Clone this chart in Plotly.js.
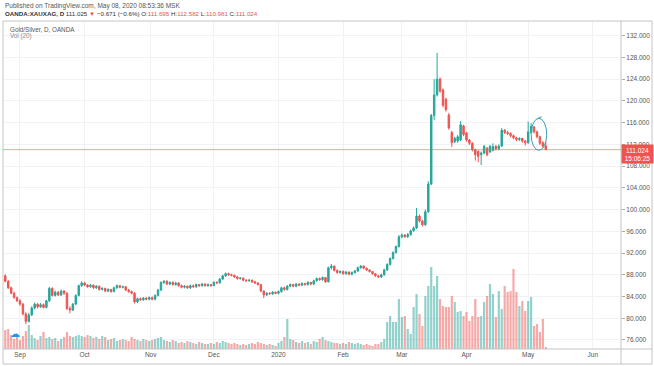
<!DOCTYPE html>
<html>
<head>
<meta charset="utf-8">
<script src="https://cdn.plot.ly/plotly-3.0.1.min.js"></script>
<style>html,body{margin:0;padding:0;background:#fff;}#chart{width:654px;height:366px;}</style>
</head>
<body>
<div id="chart"></div>
<script>
// Daily bars, Aug 26 2019 .. May 8 2020 (index = trading day)
const openP = [87.8,86.8,85.6,84.6,83.8,83.2,82.6,80.8,79.4,80.6,81.9,82.6,82.1,82.5,82.0,83.2,85.5,84.2,84.8,84.3,85.0,84.6,81.8,81.5,82.6,84.2,
86.0,86.5,86.1,85.8,86.1,85.6,85.9,85.3,85.5,85.0,85.3,84.9,85.6,86.0,85.7,85.8,85.2,84.9,84.6,83.0,83.6,83.4,83.7,83.5,83.8,83.5,84.2,85.2,86.6,86.8,
86.3,86.6,86.2,86.5,86.0,85.7,85.9,85.6,86.0,85.8,86.2,86.0,86.3,86.0,86.2,86.0,86.6,86.5,87.2,87.8,88.2,88.0,87.9,87.6,87.3,87.4,87.0,86.9,87.0,86.7,
86.5,86.2,85.0,84.3,84.6,84.5,84.8,84.6,84.9,85.6,85.3,85.9,86.2,85.9,86.3,86.1,86.4,86.2,86.6,86.3,86.9,87.3,87.1,87.5,86.7,89.3,89.6,88.8,88.4,88.6,
88.2,88.5,88.1,88.4,88.7,89.3,89.6,89.2,88.9,88.6,88.2,87.8,87.6,88.0,88.9,89.9,91.0,92.1,93.2,95.0,95.3,95.0,95.4,96.1,96.6,98.8,97.9,97.2,99.6,104.7,
117.3,121.1,124.0,122.0,120.3,117.4,114.2,112.5,112.6,112.8,115.4,114.1,112.8,112.2,111.0,110.7,110.1,110.4,111.3,110.6,110.9,111.6,111.2,111.7,114.6,
114.2,114.0,113.6,113.2,112.9,113.1,112.6,112.3,114.2,115.2,114.3,113.4,112.3,111.695];
const highP = [88.1,87.0,85.8,84.9,84.0,83.5,82.8,81.1,81.0,82.2,82.9,82.8,82.8,82.7,83.4,85.8,85.7,85.1,85.0,85.3,85.2,84.8,82.2,82.8,84.4,86.2,
86.8,86.7,86.3,86.3,86.2,86.1,86.0,85.7,85.6,85.5,85.4,85.8,86.2,86.1,86.0,85.9,85.4,85.1,84.8,83.8,83.8,83.9,83.9,84.0,84.0,84.4,85.4,86.8,87.0,87.0,
86.8,86.8,86.7,86.6,86.2,86.1,86.0,86.2,86.2,86.4,86.3,86.5,86.4,86.4,86.3,86.8,86.8,87.4,88.0,88.4,88.4,88.2,88.0,87.8,87.6,87.5,87.2,87.2,87.1,86.9,
86.6,86.3,85.1,84.8,84.8,85.0,84.9,85.1,85.8,85.8,86.1,86.4,86.3,86.5,86.4,86.6,86.5,86.8,86.7,87.1,87.5,87.5,87.7,87.6,89.5,90.0,89.7,89.0,88.8,88.8,
88.7,88.6,88.6,88.9,89.5,89.8,89.7,89.3,89.0,88.7,88.3,88.0,88.2,89.1,90.1,91.2,92.3,93.4,95.3,95.6,95.5,95.7,96.3,96.9,100.3,99.1,98.1,100.0,105.2,117.6,
124.0,128.8,124.3,122.3,120.6,117.8,114.5,113.4,113.7,116.3,115.6,114.3,113.0,112.4,111.2,110.9,110.7,111.9,111.5,111.9,112.2,111.9,112.0,115.0,114.8,
114.5,114.2,113.8,113.4,113.3,113.2,112.8,116.2,115.9,115.4,114.5,113.6,112.6,112.582];
const lowP = [86.6,85.4,84.4,83.6,83.0,82.3,80.5,78.9,79.2,80.4,81.6,81.8,81.9,81.8,81.8,83.0,84.0,84.0,84.1,84.1,84.3,81.5,80.9,81.3,82.4,84.0,
85.8,85.9,85.6,85.6,85.4,85.4,85.1,85.1,84.8,84.8,84.7,84.8,85.4,85.5,85.5,85.0,84.7,84.4,82.7,82.8,83.2,83.2,83.3,83.3,83.3,83.3,84.0,85.0,86.3,86.1,
86.1,86.0,86.0,85.8,85.5,85.5,85.4,85.4,85.6,85.6,85.8,85.8,85.8,85.8,85.8,85.9,86.3,86.4,87.0,87.6,87.8,87.7,87.4,87.1,87.1,86.8,86.7,86.7,86.5,86.3,
86.0,84.8,83.7,84.1,84.3,84.3,84.4,84.4,84.7,85.1,85.1,85.7,85.7,85.7,85.9,85.9,86.0,86.0,86.1,86.1,86.7,86.9,86.9,86.5,86.6,89.0,88.6,88.2,88.2,88.0,
88.0,87.9,87.9,88.2,88.5,89.1,89.0,88.7,88.4,88.0,87.6,87.4,87.4,87.8,88.7,89.7,90.8,91.9,93.0,94.7,94.8,94.8,95.2,95.9,96.4,97.6,96.9,97.0,99.4,104.5,
116.5,120.8,121.5,118.8,118.0,114.7,111.5,112.2,112.3,112.6,113.5,112.5,111.9,110.7,109.0,108.7,108.2,110.2,109.8,110.4,110.7,110.9,110.9,111.5,113.9,
113.7,113.3,112.9,112.6,112.6,112.3,111.8,112.1,114.0,114.0,113.1,111.9,111.4,110.981];
const closeP = [86.8,85.6,84.6,83.8,83.2,82.6,80.8,79.4,80.6,81.9,82.6,82.1,82.5,82.0,83.2,85.5,84.2,84.8,84.3,85.0,84.6,81.8,81.5,82.6,84.2,86.0,
86.5,86.1,85.8,86.1,85.6,85.9,85.3,85.5,85.0,85.3,84.9,85.6,86.0,85.7,85.8,85.2,84.9,84.6,83.0,83.6,83.4,83.7,83.5,83.8,83.5,84.2,85.2,86.6,86.8,86.3,
86.6,86.2,86.5,86.0,85.7,85.9,85.6,86.0,85.8,86.2,86.0,86.3,86.0,86.2,86.0,86.6,86.5,87.2,87.8,88.2,88.0,87.9,87.6,87.3,87.4,87.0,86.9,87.0,86.7,86.5,
86.2,85.0,84.3,84.6,84.5,84.8,84.6,84.9,85.6,85.3,85.9,86.2,85.9,86.3,86.1,86.4,86.2,86.6,86.3,86.9,87.3,87.1,87.5,86.7,89.3,89.6,88.8,88.4,88.6,88.2,
88.5,88.1,88.4,88.7,89.3,89.6,89.2,88.9,88.6,88.2,87.8,87.6,88.0,88.9,89.9,91.0,92.1,93.2,95.0,95.3,95.0,95.4,96.1,96.6,98.8,97.9,97.2,99.6,104.7,117.3,
121.1,124.0,121.8,119.2,118.4,115.0,112.3,113.1,113.4,115.6,113.8,112.8,112.2,111.0,110.1,109.8,110.4,111.6,110.1,111.6,111.6,111.2,111.7,114.6,114.2,
114.0,113.6,113.2,112.9,113.1,112.6,112.3,114.3,115.3,114.3,113.4,112.2,111.7,111.024];
const volume = [19,20,14,10,12,9,13,18, 24,14,11,9,13,17,11,12, 10,11,8,10,12,17,13,12,13,14,
13,12,14,13,11,12,10,13,12,9,10,11,8,9,10,9,8,12,10,
9,8,10,9,8,9,10,11,12,9,8,7,9,8,6,7,6,8,7,6,5,7,6,5,
5,6,5,7,6,8,7,6,5,6,5,4,5,4,5,6,5,7,6,5,4,5,4,3,
6,8,12,30,10,9,7,6,8,6,7,5,8,7,10,12,9,8,7,6,6,5,
6,5,7,6,5,6,5,4,5,4,
3,5,5,7,10,27,33,27,27,50,32,33,20,15,42,55,35,23,53,63,82,63,73,50,43,42,42,53,47,37,38,33,37,28,33,50,32,33,47,53,65,55,32,58,40,63,57,58,80,57,43,48,38,48,52,23,25,17,30,2];
const monthTickIdx = [5, 27, 49.5, 71, 93, 115, 135, 157, 178, 200];
const monthTickText = ['Sep','Oct','Nov','Dec','2020','Feb','Mar','Apr','May','Jun'];
const lastPrice = 111.024;

const idx = closeP.map((_, i) => i);
const volColors = closeP.map((c, i) => c >= openP[i] ? 'rgba(38,166,154,0.5)' : 'rgba(239,83,80,0.5)');

const FONT = 'Liberation Sans, Arial, sans-serif';
const traces = [
  {type:'bar', x: idx, y: volume, xaxis:'x', yaxis:'y', marker:{color: volColors, line:{width:0}}, hoverinfo:'skip'},
  {type:'candlestick', x: idx, open: openP, high: highP, low: lowP, close: closeP, xaxis:'x', yaxis:'y2',
   increasing:{line:{color:'#26a69a', width:1}, fillcolor:'#26a69a'},
   decreasing:{line:{color:'#ef5350', width:1}, fillcolor:'#ef5350'},
   whiskerwidth:0, hoverinfo:'skip'}
];

const px2x = p => (p - 3) / 618;
const px2y = p => (349 - p) / 328;
const red = '#ef5350';

const layout = {
  width:654, height:366,
  margin:{l:3, r:33, t:21, b:17, pad:0},
  paper_bgcolor:'#ffffff', plot_bgcolor:'#ffffff',
  showlegend:false, bargap:0.25, hovermode:false,
  font:{family:FONT, size:6.5, color:'#555'},
  xaxis:{range:[-0.78, 209.6], tickvals: monthTickIdx, ticktext: monthTickText,
    showgrid:true, gridcolor:'#f0f2f5', gridwidth:1, zeroline:false, showline:false,
    ticks:'', tickfont:{size:6.5, color:'#555', family:FONT}, rangeslider:{visible:false}, fixedrange:true},
  yaxis:{domain:[0,1], range:[0,328], visible:false, fixedrange:true},
  yaxis2:{overlaying:'y', side:'right', anchor:'x', range:[74.34, 134.70], dtick:4, tick0:0,
    tickformat:'.3f', ticks:'outside', ticklen:3, tickcolor:'#aaa',
    tickfont:{size:6.5, color:'#555', family:FONT},
    showgrid:true, gridcolor:'#f0f2f5', zeroline:false, showline:false, fixedrange:true},
  shapes:[
    {type:'rect', xref:'paper', yref:'paper', x0:0, x1:px2x(652), y0:px2y(364), y1:1, line:{color:'#c4c4c4', width:1}, layer:'above'},
    {type:'line', xref:'paper', yref:'paper', x0:0, x1:px2x(652), y0:0, y1:0, line:{color:'#c4c4c4', width:1}},
    {type:'line', xref:'paper', yref:'paper', x0:1, x1:1, y0:px2y(364), y1:1, line:{color:'#c4c4c4', width:1}},
    {type:'line', xref:'paper', yref:'y2', x0:0, x1:1, y0:lastPrice, y1:lastPrice, line:{color:'rgba(239,83,80,0.55)', width:1}},
    {type:'circle', xref:'x', yref:'y2', x0:179.0, x1:184.3, y0:110.9, y1:116.8, line:{color:'#3d9fb3', width:1}},
    {type:'line', xref:'x', yref:'y2', x0:181.2, x1:182.6, y0:116.75, y1:117.1, line:{color:'#3d9fb3', width:1}}
  ],
  annotations:[
    {xref:'paper', yref:'paper', x:px2x(3), y:px2y(6), xanchor:'left', yanchor:'middle', showarrow:false,
     text:'Published on TradingView.com, May 08, 2020 08:53:36 MSK', font:{size:6.5, color:'#555', family:FONT}},
    {xref:'paper', yref:'paper', x:px2x(3), y:px2y(13.5), xanchor:'left', yanchor:'middle', showarrow:false,
     text:"<b>OANDA:XAUXAG, D</b> 111.025 <span style='color:#ef5350'>▼</span> −0.671 (−0.6%) O:<span style='color:#ef5350'>111.695</span> H:<span style='color:#ef5350'>112.582</span> L:<span style='color:#ef5350'>110.981</span> C:<span style='color:#ef5350'>111.024</span>",
     font:{size:6.2, color:'#333', family:FONT}},
    {xref:'paper', yref:'paper', x:px2x(8), y:px2y(29), xanchor:'left', yanchor:'middle', showarrow:false,
     text:'Gold/Silver, D, OANDA', font:{size:6.3, color:'#555', family:FONT}},
    {xref:'paper', yref:'paper', x:px2x(8), y:px2y(36), xanchor:'left', yanchor:'middle', showarrow:false,
     text:'Vol (20)', font:{size:6.3, color:'#888', family:FONT}},
    {xref:'paper', yref:'y2', x:1, y:lastPrice, xanchor:'left', yanchor:'top', yshift:6, showarrow:false,
     text:'111.024<br>15:06:25', bgcolor:red, borderpad:1.5, width:28, align:'center',
     font:{size:6.5, color:'#ffffff', family:FONT}},
    {xref:'paper', yref:'paper', x:px2x(15), y:px2y(333), xanchor:'center', yanchor:'middle', showarrow:false,
     text:'☁', font:{size:10, color:'#2196f3', family:'DejaVu Sans'}}
  ]
};

Plotly.newPlot('chart', traces, layout, {staticPlot:true, displayModeBar:false});
</script>
</body>
</html>
